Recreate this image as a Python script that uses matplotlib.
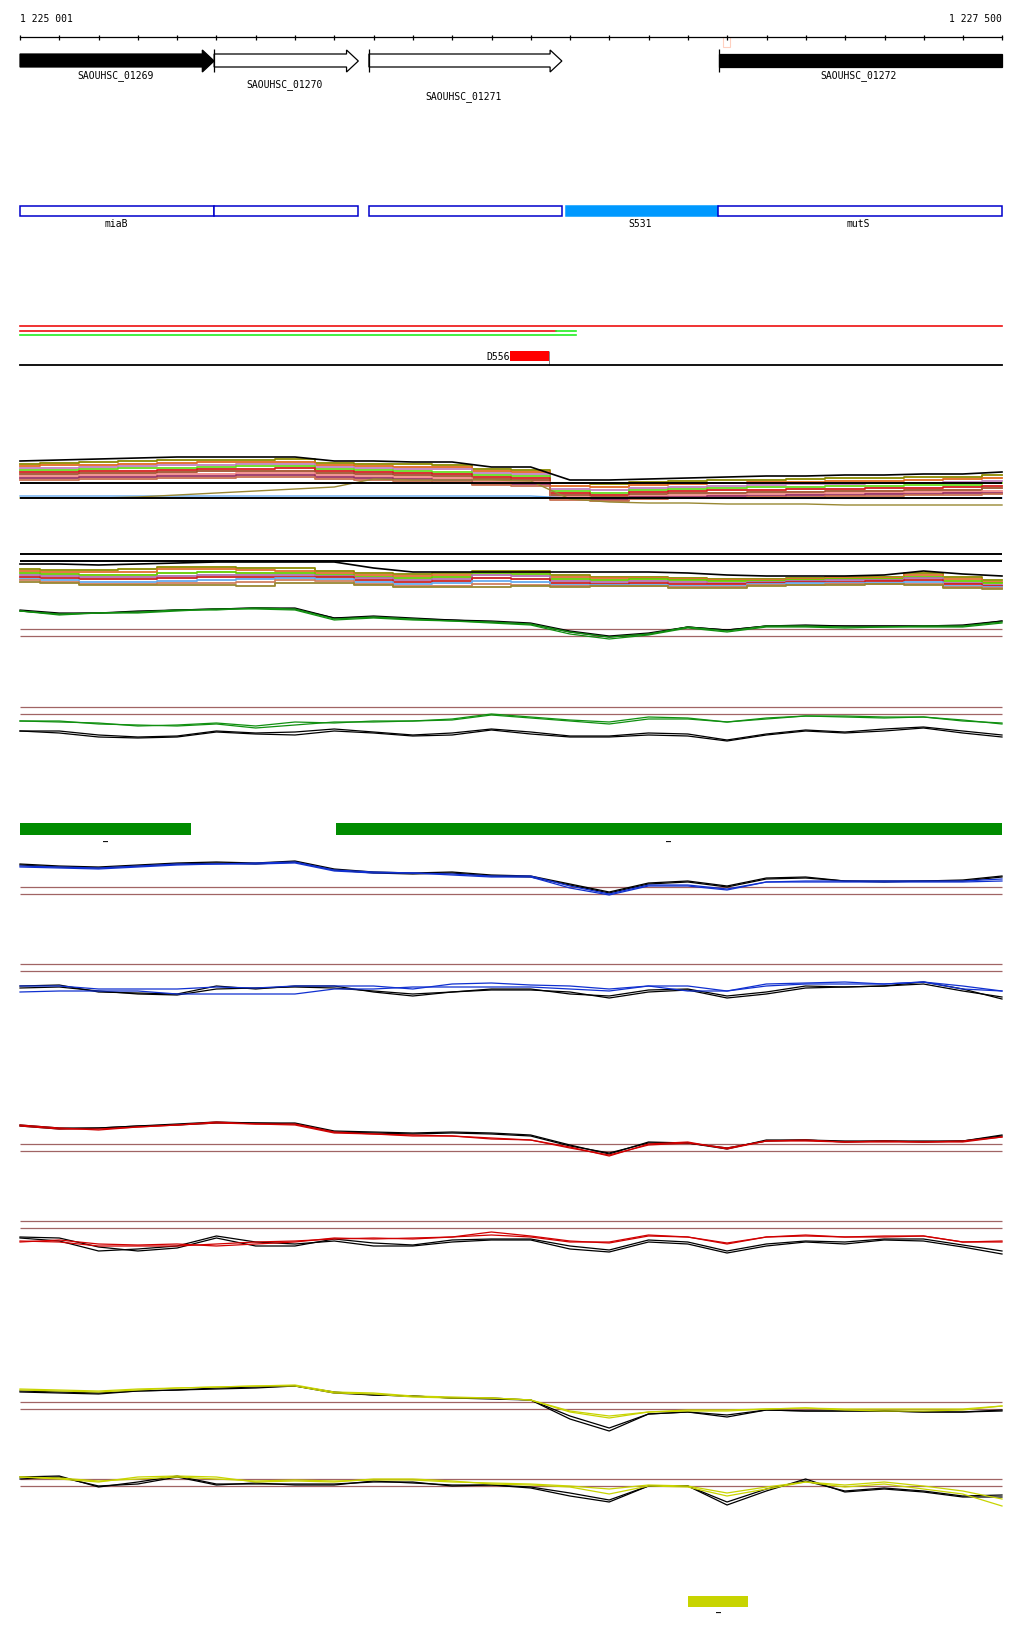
import matplotlib
matplotlib.use('Agg')
import matplotlib.pyplot as plt
from matplotlib.patches import Polygon, Rectangle
import numpy as np

W, H = 1024, 1640
START, END = 1225001, 1227500
BPPX = (END - START) / 982.0
XL = START - 20 * BPPX
XR = START + (W - 20) * BPPX
FONT = 'DejaVu Sans Mono'

# ---------------- data ----------------
ruler_labels = ['1 225 001', '1 227 500']
cursor_bp = 1226800

genes = ['SAOUHSC_01269', 'SAOUHSC_01270', 'SAOUHSC_01271', 'SAOUHSC_01272']
gene_start = [1224900, 1225495, 1225889, 1226779]
gene_end = [1225495, 1225862, 1226380, 1227650]
gene_filled = [True, False, False, True]
gene_head = [True, True, True, False]
gene_label_x = [1225245, 1225675, 1226131, 1227134]

region_start = [1225001, 1225495, 1225889, 1226390, 1226777]
region_end = [1225495, 1225861, 1226380, 1226777, 1227500]
region_filled = [False, False, False, True, False]
region_labels = ['miaB', 'S531', 'mutS']
region_label_x = [1225245, 1226579, 1227134]

red_long = (1225001, 1227500)
red_short = (1225001, 1226365)
green_tail = (1226365, 1226416)
green_short = (1225001, 1226416)
site_label = 'D556'
site_span = (1226248, 1226347)

green_bars = [(1225001, 1225436), (1225805, 1227500)]
yellow_bars = [(1226701, 1226854)]

X = np.linspace(START, END, 26)

# Track A (multi-sample)
A_top = [58,59,60,61,62,62,62,62,58,58,57,57,52,52,39,39,40,41,42,43,43,44,44,45,45,47]
A_lines = [
    [55,56,57,58,59,59,59,60,56,55,55,54,50,49,36,35,37,38,39,39,40,41,41,42,42,44],
    [53,54,54,55,56,57,57,57,54,53,52,52,48,47,33,32,34,35,36,37,37,38,38,39,40,41],
    [51,51,52,53,54,54,55,55,52,51,50,50,46,45,30,29,31,32,33,34,35,35,36,36,37,38],
    [49,49,50,51,51,52,53,53,50,49,48,47,44,43,28,26,29,30,31,32,32,33,33,34,34,36],
    [47,47,48,48,49,50,50,51,48,47,46,45,42,41,26,24,27,28,29,29,30,30,31,31,32,33],
    [45,45,46,46,47,48,48,48,46,45,44,43,40,39,24,22,25,26,26,27,27,28,28,29,29,31],
    [43,43,44,44,45,45,46,46,44,43,42,41,38,37,22,20,23,24,24,25,25,26,26,27,27,28],
    [41,41,42,42,43,43,44,44,42,41,40,39,35,35,21,19,22,22,23,23,24,24,25,25,26,26],
    [39,39,40,40,41,41,42,42,40,39,38,37,34,33,19,18,20,21,21,22,22,23,23,24,24,25],
]
A_lightblue = [23,23,23,23,23,23,23,23,23,23,23,23,23,23,21,21,21,21,21,21,21,21,21,21,21,21]
A_olive = [21,21,21,22,24,26,28,30,32,40,39,39,39,38,20,17,16,16,15,15,15,14,14,14,14,14]
A_ref = [36, 21]

# Track B (multi-sample)
B_top = [35,35,34,35,36,37,37,37,37,31,27,27,27,27,27,27,27,26,24,23,23,23,24,28,25,23]
B_lines = [
    [30,29,29,30,32,32,31,31,28,26,25,26,28,28,24,22,22,21,20,20,21,22,22,26,22,19],
    [28,27,27,27,30,30,29,28,26,24,23,24,27,27,22,21,21,20,19,19,20,21,21,24,20,17],
    [26,25,24,24,26,27,26,26,24,22,21,22,26,25,20,19,20,19,18,18,19,20,20,22,18,16],
    [24,23,22,22,23,24,24,24,23,21,19,20,24,23,18,17,18,17,16,17,18,19,19,21,16,14],
    [22,21,20,20,21,22,22,22,22,19,17,18,21,20,16,15,16,15,15,16,17,17,18,19,15,13],
    [20,19,17,17,18,19,20,21,20,17,15,16,18,17,14,14,14,13,13,15,16,16,16,17,13,12],
    [19,17,15,15,16,16,17,19,18,15,13,13,15,14,13,13,13,12,12,14,14,15,15,15,12,11],
    [17,16,14,14,14,14,13,16,16,14,12,12,12,13,12,13,13,11,11,13,14,14,15,14,11,10],
]
B_ref = [45, 38]

# Track C (green / black)
C_col = [[33,30,31,32,34,34,36,35,25,27,25,23,22,20,12,7,10,17,13,18,18,17,17,18,18,22],
         [33,29,31,31,33,35,35,34,24,26,24,23,21,19,10,5,9,16,12,17,17,16,17,17,17,21]]
C_blk = [[33,30,31,32,34,35,36,35,26,27,25,24,22,20,12,7,10,17,14,18,18,18,18,18,18,23],
         [34,31,31,33,34,35,36,36,26,28,26,24,23,21,13,8,11,17,14,18,19,18,18,18,19,23]]
C_ref = [15, 8]

# Track C2 (green / black)
C2_col = [[28,27,26,23,24,26,23,27,26,28,28,30,35,32,29,27,32,31,27,31,33,33,32,32,28,26],
          [28,28,25,24,23,25,21,24,27,27,28,29,34,31,28,25,30,30,27,30,33,32,31,32,29,25]]
C2_blk = [[18,18,14,12,13,18,16,17,20,17,14,16,20,17,13,13,16,15,9,15,19,17,20,22,18,14],
          [18,16,12,11,12,17,15,14,18,16,13,14,19,15,12,12,14,13,8,14,18,16,18,21,16,12]]
C2_ref = [42, 35]

# Track D (blue / black)
D_col = [[38,37,36,38,40,40,41,42,34,32,31,30,28,28,18,10,19,19,15,22,23,23,23,23,23,25],
         [37,36,35,37,39,40,40,41,33,31,31,29,27,27,16,9,18,18,14,22,22,22,22,22,22,23]]
D_blk = [[40,38,37,39,41,42,41,43,35,32,31,32,29,28,20,12,21,23,18,26,27,23,23,23,24,28],
         [39,37,36,38,40,41,40,42,34,31,30,31,28,27,19,11,20,22,17,25,26,23,22,23,23,27]]
D_ref = [17, 10]

# Track E (blue / black)
E_col = [[23,23,20,20,20,22,21,23,23,23,20,25,26,24,23,20,23,23,18,25,26,27,25,27,23,18],
         [17,18,18,18,15,15,15,15,20,20,22,22,22,22,20,18,23,18,18,23,25,25,25,27,20,18]]
E_blk = [[23,24,17,16,15,23,20,23,23,17,13,17,20,20,15,13,19,20,13,17,23,22,23,27,20,10],
         [21,22,18,15,14,20,21,22,21,18,15,17,19,19,17,11,17,19,11,15,21,22,23,25,18,12]]
E_ref = [45, 38]

# Track F (red / black)
F_col = [[43,40,40,42,44,47,45,45,37,35,34,33,31,29,22,13,25,27,20,28,29,27,28,27,27,32],
         [44,41,39,42,44,46,45,44,36,35,33,33,30,29,21,14,24,26,21,28,28,27,27,27,28,32]]
F_blk = [[44,41,41,43,45,47,46,46,38,37,36,37,36,34,24,15,27,26,21,28,29,27,28,27,28,33],
         [43,40,41,43,44,46,46,45,37,36,35,36,35,33,23,16,26,26,20,29,29,28,28,28,28,34]]
F_ref = [25, 18]

# Track G (red / black)
G_col = [[23,22,18,18,18,20,22,23,25,26,25,27,32,28,23,21,28,27,20,27,29,27,28,28,22,23],
         [22,24,20,19,20,18,20,22,26,25,26,27,29,27,22,22,29,27,21,27,28,27,27,28,22,22]]
G_blk = [[26,23,13,15,18,28,22,20,23,18,18,22,24,24,15,12,22,20,11,18,22,20,24,23,17,10],
         [27,26,17,13,16,26,18,18,25,21,19,24,25,25,18,14,24,22,13,20,23,22,25,25,19,13]]
G_ref = [43, 36]

# Track H (yellow / black)
H_col = [[49,48,47,49,51,52,53,54,47,46,43,42,41,39,27,21,27,28,28,30,31,29,28,28,29,33],
         [50,49,48,50,51,52,53,53,46,45,42,41,41,39,28,23,27,29,29,30,31,30,30,30,30,33]]
H_blk = [[48,47,46,48,49,51,52,53,47,44,43,41,41,39,20,8,25,27,22,29,28,28,28,27,27,28],
         [47,46,45,48,49,50,51,53,46,44,43,41,40,39,23,11,25,27,24,29,28,28,28,27,27,29]]
H_ref = [37, 30]

# Track I (yellow / black)
I_col = [[42,40,37,42,43,42,37,38,37,40,40,38,35,34,32,25,33,32,23,30,37,32,35,30,25,13],
         [42,41,38,40,42,40,38,39,38,39,39,37,36,35,33,30,34,33,26,32,37,34,37,33,28,20]]
I_blk = [[42,43,32,37,43,35,35,35,35,37,37,33,34,31,23,17,33,33,14,28,40,27,30,27,22,22],
         [40,42,33,35,42,34,36,34,34,38,36,34,34,32,26,19,33,33,17,30,38,28,31,28,23,24]]
I_ref = [40, 33]

# ---------------- styles ----------------
BROWN = '#a06464'
multi_A_colors = ['#8b8b00', '#e06a20', '#c080c0', '#66dd22', '#d42020',
                  '#a0522d', '#f08888', '#993366', '#c87050']
multi_B_colors = ['#8b8b00', '#e07030', '#66cc00', '#b070b0', '#cc2222',
                  '#66aaee', '#d08060', '#998833']

fig = plt.figure(figsize=(W / 100, H / 100), dpi=100)
fig.patch.set_facecolor('white')

ax = fig.add_axes([0, 0, 1, 1])
ax.set_xlim(XL, XR)
ax.set_ylim(H, 0)
ax.axis('off')

# ruler
ax.plot([START, END], [38, 38], color='black', lw=0.9)
ticks = list(np.arange(START, END, 100)) + [END]
ax.vlines(ticks, 36, 40.5, color='black', lw=0.9)
ax.text(START, 19, ruler_labels[0], ha='left', va='center', fontsize=7, family=FONT)
ax.text(END, 19, ruler_labels[1], ha='right', va='center', fontsize=7, family=FONT)
ax.add_patch(Rectangle((cursor_bp - 9, 38), 18, 10, fill=False, edgecolor='#ffd0c0', lw=0.8))

# genes
HEAD = 30
for name, s, e, filled, head, lx, ly in zip(genes, gene_start, gene_end, gene_filled,
                                            gene_head, gene_label_x, [76, 85, 97, 76]):
    s_clip = max(s, START)
    e_clip = min(e, END)
    fc = 'black' if filled else 'white'
    if head:
        hs = e - HEAD
        pts = [(s_clip, 55), (hs, 55), (hs, 51), (e, 62), (hs, 73), (hs, 68), (s_clip, 68)]
    else:
        pts = [(s_clip, 55), (e_clip, 55), (e_clip, 68), (s_clip, 68)]
    ax.add_patch(Polygon(pts, closed=True, facecolor=fc, edgecolor='black', lw=0.9))
    if s >= START:
        ax.vlines(s, 50, 73, color='black', lw=0.9)
    ax.text(lx, ly, name, ha='center', va='center', fontsize=7, family=FONT)

# regions
for s, e, f in zip(region_start, region_end, region_filled):
    ax.add_patch(Rectangle((s, 207), e - s, 10,
                           facecolor='#0099ff' if f else 'white',
                           edgecolor='#0099ff' if f else '#0000cc', lw=1.1))
for lab, lx in zip(region_labels, region_label_x):
    ax.text(lx, 224, lab, ha='center', va='center', fontsize=7, family=FONT)

# coverage lines
ax.plot(red_long, [327, 327], color='#ee1111', lw=1.2)
ax.plot(red_short, [332, 332], color='#ee1111', lw=1.2)
ax.plot(green_tail, [332, 332], color='#22ee22', lw=1.2)
ax.plot(green_short, [336, 336], color='#22ee22', lw=1.2)
ax.add_patch(Rectangle((site_span[0], 352), site_span[1] - site_span[0], 10,
                       facecolor='#ff0000', edgecolor='none'))
ax.text(site_span[0], 357, site_label, ha='right', va='center', fontsize=7, family=FONT)
ax.vlines(site_span[1], 352, 366, color='#555555', lw=0.5)
ax.plot([START, END], [366, 366], color='black', lw=1.3)

# feature bars
for s, e in green_bars:
    ax.add_patch(Rectangle((s, 824), e - s, 12, facecolor='#008c00', edgecolor='none'))
    ax.text((s + e) / 2, 842, '–', ha='center', va='center', fontsize=6,
            fontweight='bold', family=FONT)
for s, e in yellow_bars:
    ax.add_patch(Rectangle((s, 1597), e - s, 11, facecolor='#c8d400', edgecolor='none'))
    ax.text((s + e) / 2, 1613, '–', ha='center', va='center', fontsize=6,
            fontweight='bold', family=FONT)


def track(top, bottom):
    a = fig.add_axes([0, 1 - bottom / H, 1, (bottom - top) / H])
    a.set_xlim(XL, XR)
    a.set_ylim(0, bottom - top)
    a.axis('off')
    a.patch.set_alpha(0)
    return a


# multi-sample track A
a = track(440, 520)
for vals, c in zip(A_lines, multi_A_colors):
    a.plot(X, vals, color=c, lw=1.3, drawstyle='steps-mid')
a.plot(X, A_lightblue, color='#66aaee', lw=1.0)
a.plot(X, A_olive, color='#998833', lw=1.0)
a.plot(X, A_top, color='black', lw=1.2)
a.hlines(A_ref, START, END, color='black', lw=1.4)

# multi-sample track B
a = track(540, 600)
for vals, c in zip(B_lines, multi_B_colors):
    a.plot(X, vals, color=c, lw=1.3, drawstyle='steps-mid')
a.plot(X, B_top, color='black', lw=1.2)
a.hlines(B_ref, START, END, color='black', lw=1.4)

# paired tracks
paired = [
    ((600, 645), C_col, C_blk, C_ref, '#109010'),
    ((700, 750), C2_col, C2_blk, C2_ref, '#109010'),
    ((850, 905), D_col, D_blk, D_ref, '#1030d0'),
    ((955, 1010), E_col, E_blk, E_ref, '#1030d0'),
    ((1110, 1170), F_col, F_blk, F_ref, '#d00000'),
    ((1215, 1265), G_col, G_blk, G_ref, '#d00000'),
    ((1375, 1440), H_col, H_blk, H_ref, '#c8d400'),
    ((1465, 1520), I_col, I_blk, I_ref, '#c8d400'),
]
for (top, bot), cols, blks, refs, c in paired:
    a = track(top, bot)
    a.hlines(refs, START, END, color=BROWN, lw=0.9)
    for vals in blks:
        a.plot(X, vals, color='black', lw=0.9)
    for vals in cols:
        a.plot(X, vals, color=c, lw=0.9)

fig.savefig('out.png', dpi=100, facecolor='white')
